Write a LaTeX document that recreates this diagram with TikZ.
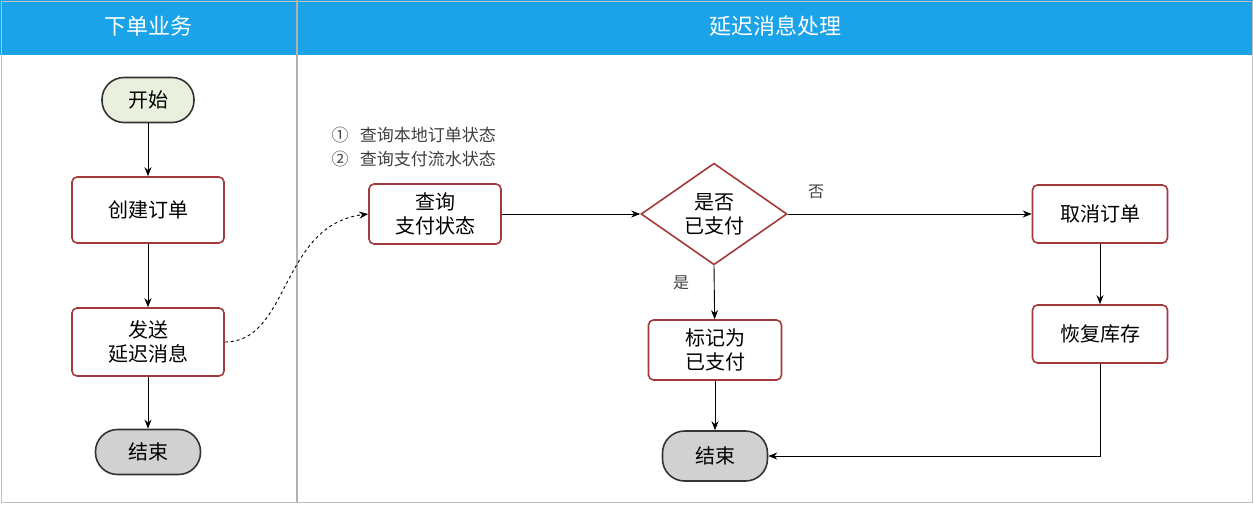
\documentclass[tikz,border=0pt]{standalone}
\usepackage{fontspec}
\setmainfont{Noto Sans CJK SC}
\usetikzlibrary{shapes.geometric,arrows.meta}
\definecolor{headblue}{HTML}{1AA3E8}
\definecolor{boxred}{HTML}{A33A3A}
\definecolor{startgreen}{HTML}{E9F0DE}
\tikzset{
  box/.style={draw=boxred, line width=1.6pt, rounded corners=5pt, minimum width=152pt, minimum height=66pt, align=center, font=\fontsize{20}{24}\selectfont},
  pill/.style={draw=black!80, line width=1.6pt, rounded corners=22pt, minimum width=92pt, minimum height=45pt, font=\fontsize{20}{24}\selectfont},
  flow/.style={-{Stealth[length=9pt,width=7pt]}, line width=0.9pt},
}
\begin{document}
\begin{tikzpicture}[x=1pt,y=-1pt]
\useasboundingbox (0,0) rectangle (1253,504);
% lanes
\fill[headblue] (0,0) rectangle (1253,55);
\draw[black!25, line width=1pt] (1,1) rectangle (1252,502);
\draw[black!30, line width=2pt] (297,0) -- (297,502);
\node[white, font=\fontsize{22}{26}\selectfont] (laneA) at (148,26) {下单业务};
\node[white, font=\fontsize{22}{26}\selectfont] (laneB) at (775,26) {延迟消息处理};

% order lane
\node[pill, fill=startgreen] (start) at (148,100) {开始};
\node[box] (create) at (148,210) {创建订单};
\node[box, minimum height=68pt] (send) at (148,342) {发送\\延迟消息};
\node[pill, fill=black!18, minimum width=105pt] (endA) at (148,452) {结束};

% delay lane
\node[box, minimum width=132pt, minimum height=60pt] (query) at (435,214) {查询\\支付状态};
\node[draw=boxred, line width=1.6pt, diamond, minimum width=146pt, minimum height=92pt, inner sep=0pt, align=center, font=\fontsize{20}{24}\selectfont] (paid) at (714,214) {是否\\已支付};
\node[box, minimum width=135pt, minimum height=58pt] (cancel) at (1100,214) {取消订单};
\node[box, minimum width=135pt, minimum height=58pt] (restore) at (1100,334) {恢复库存};
\node[box, minimum width=133pt, minimum height=60pt] (mark) at (715,350) {标记为\\已支付};
\node[pill, fill=black!18, minimum width=105pt, minimum height=50pt] (endB) at (715,456) {结束};

\node[anchor=west, align=left, text=black!75, font=\fontsize{17}{24}\selectfont] (note) at (328,147) {①\ \ \ 查询本地订单状态\\②\ \ \ 查询支付流水状态};
\node[text=black!75, font=\fontsize{16}{20}\selectfont] (no) at (816,192) {否};
\node[text=black!75, font=\fontsize{16}{20}\selectfont] (yes) at (681,283) {是};

\draw[flow] (start) -- (create);
\draw[flow] (create) -- (send);
\draw[flow] (send) -- (endA);
\draw[flow, dashed] (send.east) .. controls (290,342) and (280,225) .. (query.west);
\draw[flow] (query) -- (paid.west);
\draw[flow] (paid.east) -- (cancel.west);
\draw[flow] (paid.south) -- (mark);
\draw[flow] (cancel) -- (restore);
\draw[flow] (mark) -- (endB);
\draw[flow] (restore.south) |- (endB.east);
\end{tikzpicture}
\end{document}
